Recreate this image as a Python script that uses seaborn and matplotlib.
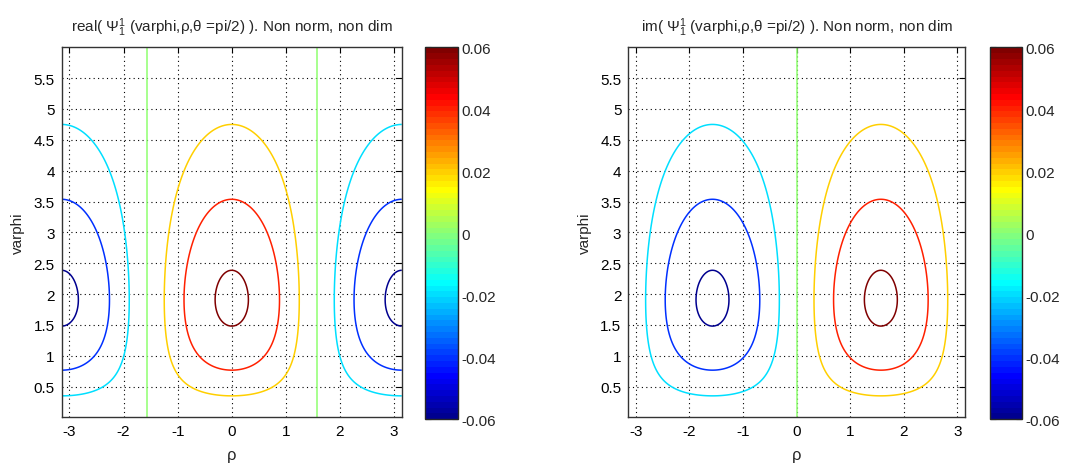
import numpy as np
import matplotlib
matplotlib.use("Agg")
import matplotlib.pyplot as plt
from matplotlib.colors import ListedColormap, Normalize
import seaborn as sns

# ---- data ----
# amplitude profile along rho = 0 (where contours cross), varphi -> value
profile_varphi = [0.35, 0.78, 1.47, 1.90, 2.39, 3.53, 4.75]
profile_amp = [0.02, 0.04, 0.06, 0.0632, 0.06, 0.04, 0.02]
levels = [-0.06, -0.04, -0.02, 0.0, 0.02, 0.04, 0.06]
rho_ticks = [-3, -2, -1, 0, 1, 2, 3]
varphi_ticks = [0.5, 1, 1.5, 2, 2.5, 3, 3.5, 4, 4.5, 5, 5.5]
cbar_ticks = [-0.06, -0.04, -0.02, 0, 0.02, 0.04, 0.06]
cbar_labels = ["-0.06", "-0.04", "-0.02", "0", "0.02", "0.04", "0.06"]
titles = ["real( $\\Psi^1_1$ (varphi,ρ,θ =pi/2) ). Non norm, non dim",
          "im( $\\Psi^1_1$ (varphi,ρ,θ =pi/2) ). Non norm, non dim"]

sns.set_style("white")
plt.rcParams["font.family"] = ["Liberation Sans", "DejaVu Sans"]
plt.rcParams["mathtext.fontset"] = "custom"
plt.rcParams["mathtext.rm"] = "Liberation Sans"
plt.rcParams["mathtext.it"] = "Liberation Sans"
plt.rcParams["axes.unicode_minus"] = False


def matlab_jet(m=64):
    n = int(np.ceil(m / 4))
    u = np.concatenate([np.arange(1, n + 1) / n, np.ones(n - 1),
                        np.arange(n, 0, -1) / n])
    g = int(np.ceil(n / 2)) - (1 if m % 4 == 1 else 0) + np.arange(1, len(u) + 1)
    r = g + n
    b = g - n
    J = np.zeros((m, 3))
    for idx, ch in ((r, 0), (g, 1), (b, 2)):
        ok = (idx >= 1) & (idx <= m)
        J[idx[ok] - 1, ch] = u[ok]
    return ListedColormap(J)


# smooth profile through the read points: A(v) = v * exp(p(v))
pv = np.array(profile_varphi)
pa = np.array(profile_amp)
coef = np.polyfit(pv, np.log(pa / pv), 3)
rho = np.linspace(-np.pi, np.pi, 400)
varphi = np.linspace(0.005, 5.995, 300)
A = varphi * np.exp(np.polyval(coef, varphi))
fields = [np.outer(A, np.cos(rho)), np.outer(A, np.sin(rho))]

cmap = matlab_jet(64)

fig = plt.figure(figsize=(10.68, 4.64), dpi=100)
ax_pos = [[0.0578, 0.0985, 0.3184, 0.797], [0.5883, 0.0985, 0.3153, 0.797]]
cb_pos = [[0.398, 0.0945, 0.0312, 0.801], [0.927, 0.0945, 0.0302, 0.801]]

for i in range(2):
    norm = Normalize(vmin=-0.06, vmax=0.06)
    ax = fig.add_axes(ax_pos[i])
    ax.contour(rho, varphi, fields[i], levels=levels, cmap=cmap, norm=norm,
               linewidths=1.1)
    ax.set_xlim(-np.pi, np.pi)
    ax.set_ylim(0.005, 5.995)
    ax.set_xticks(rho_ticks)
    ax.set_yticks(varphi_ticks)
    ax.set_yticklabels([("%g" % v) for v in varphi_ticks])
    ax.grid(True, color="black", linestyle=(0, (1, 3)), linewidth=0.8)
    ax.tick_params(direction="in", top=True, right=True, length=4,
                   labelsize=11, colors="black", width=0.8, pad=5)
    for s in ax.spines.values():
        s.set_color("#333333")
        s.set_linewidth(1.0)
    ax.set_xlabel("ρ", fontsize=12, labelpad=6)
    ax.set_ylabel("varphi", fontsize=11, labelpad=6)
    ax.set_title(titles[i], fontsize=11, pad=12)

    cax = fig.add_axes(cb_pos[i])
    sm = matplotlib.cm.ScalarMappable(norm=Normalize(vmin=-0.06, vmax=0.06),
                                      cmap=cmap)
    cb = fig.colorbar(sm, cax=cax)
    cb.set_ticks(cbar_ticks, labels=cbar_labels)
    cb.ax.tick_params(direction="in", left=True, right=True, length=4,
                      labelsize=11, width=0.8, pad=2)
    cb.outline.set_linewidth(1.0)

fig.savefig("out.png", dpi=100)
